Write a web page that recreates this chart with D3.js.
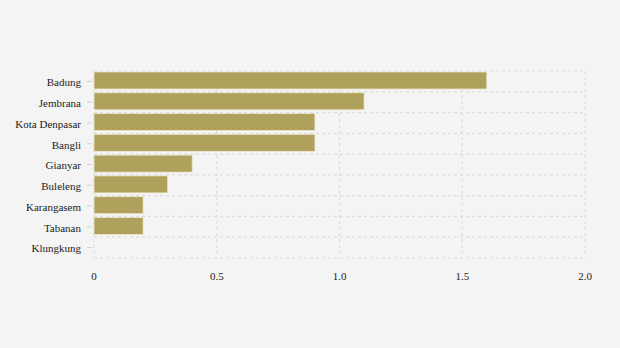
<!DOCTYPE html>
<html><head><meta charset="utf-8">
<script src="https://cdn.jsdelivr.net/npm/d3@7"></script>
<style>body{margin:0;background:#f4f4f4;}svg{display:block;}</style>
</head><body>
<svg id="c" width="620" height="348"></svg>
<script>
const categories = ["Badung","Jembrana","Kota Denpasar","Bangli","Gianyar","Buleleng","Karangasem","Tabanan","Klungkung"];
const values = [1.6,1.1,0.9,0.9,0.4,0.3,0.2,0.2,0];
const xTicks = [0,0.5,1.0,1.5,2.0];
const xTickLabels = ["0","0.5","1.0","1.5","2.0"];

(function(){
const svg = d3.select("#c");
svg.append("rect").attr("width",620).attr("height",348).attr("fill","#f4f4f4");
const mL=94, mR=585, mT=71, mB=258;
const font = "'Liberation Serif', 'Times New Roman', serif";
const x = d3.scaleLinear().domain([0,2]).range([mL,mR]);
const y = d3.scaleBand().domain(categories).range([mT,mB]).paddingInner(0).paddingOuter(0);
const grid = svg.append("g");
const gridStyle = s => s.attr("stroke","#dcdcdc").attr("stroke-width",1.2).attr("stroke-dasharray","3,3").attr("fill","none");
const hb = categories.map(c=>y(c)).concat([mB]);
hb.forEach(v=>gridStyle(grid.append("line").attr("x1",mL).attr("x2",mR).attr("y1",v).attr("y2",v)));
xTicks.forEach(t=>gridStyle(grid.append("line").attr("x1",x(t)).attr("x2",x(t)).attr("y1",mT).attr("y2",mB)));

const bh = 17;
svg.append("g").selectAll("rect").data(categories).join("rect")
  .attr("x",x(0)).attr("y",(d)=>y(d)+1)
  .attr("width",(d,i)=>x(values[i])-x(0)).attr("height",bh)
  .attr("fill","#afa05c").attr("stroke","#ece6cc").attr("stroke-width",0.8)
  .attr("display",(d,i)=>values[i]>0?null:"none");

const yAxis = svg.append("g");
categories.forEach(c=>{
  const cy = y(c)+y.bandwidth()/2;
  yAxis.append("line").attr("x1",87).attr("x2",92).attr("y1",cy).attr("y2",cy).attr("stroke","#d0d0d0");
  yAxis.append("text").attr("x",81).attr("y",cy+1).attr("dy","0.35em").attr("text-anchor","end")
    .attr("font-family",font).attr("font-size",11).attr("fill","#222").text(c);
});
xTicks.forEach((t,i)=>{
  svg.append("text").attr("x",x(t)).attr("y",276).attr("dy","0.35em").attr("text-anchor","middle")
    .attr("font-family",font).attr("font-size",11).attr("fill","#222").text(xTickLabels[i]);
});
})();
</script>
</body></html>
